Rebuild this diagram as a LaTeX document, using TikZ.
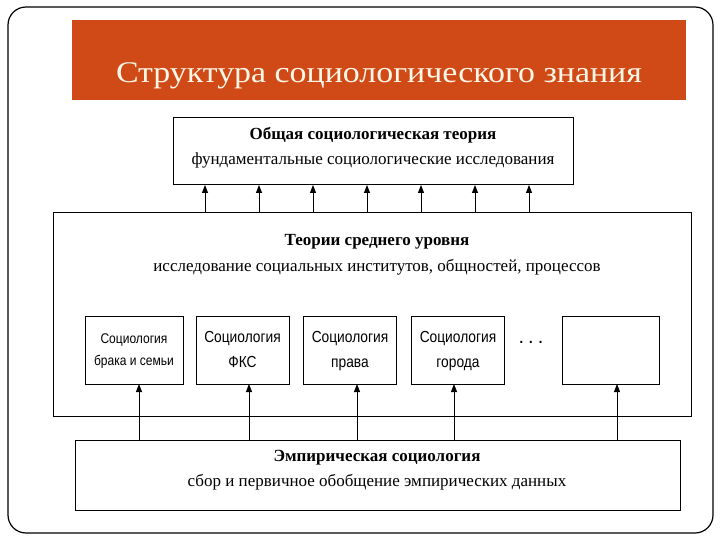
\documentclass[tikz,border=0pt]{standalone}
\usepackage{fontspec}
\setmainfont{Liberation Serif}
\newfontfamily\boxsans{Liberation Sans}
\usetikzlibrary{arrows.meta}
\definecolor{titlebar}{HTML}{D04A17}
\definecolor{titletext}{HTML}{FFF8E8}
\tikzset{
  bigbox/.style={draw, line width=1pt, fill=white},
  smallbox/.style={draw, line width=1pt, fill=white, minimum width=93pt, minimum height=68pt, inner sep=0pt},
  arr/.style={-{Triangle[length=8pt,width=6pt]}, line width=0.8pt},
  hd/.style={font=\fontsize{17}{20}\selectfont\bfseries},
  sub/.style={font=\fontsize{17}{20}\selectfont},
  bx/.style={align=center}
}
\newcommand{\bxtext}[3]{\scalebox{0.86}[1]{\boxsans\fontsize{#1}{#2}\selectfont\begin{tabular}{@{}c@{}}#3\end{tabular}}}
\begin{document}
\begin{tikzpicture}[x=1pt,y=-1pt]
\useasboundingbox (0,0) rectangle (720,540);
\fill[white] (0,0) rectangle (720,540);
% outer frame
\draw[line width=1.2pt, rounded corners=18pt] (8,7) rectangle (713,533);
% title bar
\fill[titlebar] (72,20) rectangle (686,100);
\node (title) at (379,76) {\scalebox{1.13}[1]{\color{titletext}\fontsize{30}{34}\selectfont Структура социологического знания}};
% top box
\draw[bigbox] (173,118) rectangle (573,185);
\node[hd] (t1) at (373,135) {Общая социологическая теория};
\node[sub] (t2) at (373,160) {фундаментальные социологические исследования};
% middle box
\draw[bigbox] (53,213) rectangle (691,416);
\node[hd] (m1) at (377,242) {Теории среднего уровня};
\node[sub] (m2) at (377,267) {исследование социальных институтов, общностей, процессов};
% arrows up
\foreach \x in {205,259,313,367,421,475,529}{
  \draw[arr] (\x,213) -- (\x,185);
}
% small boxes
\node[smallbox, minimum width=98pt] (s1) at (134,350) {};
\node[bx] at (s1) {\bxtext{14}{22}{Социология\\брака и семьи}};
\node[smallbox] (s2) at (242.5,350) {};
\node[bx] at (s2) {\bxtext{16}{25}{Социология\\ФКС}};
\node[smallbox] (s3) at (350,350) {};
\node[bx] at (s3) {\bxtext{16}{25}{Социология\\права}};
\node[smallbox] (s4) at (458,350) {};
\node[bx] at (s4) {\bxtext{16}{25}{Социология\\города}};
\node[smallbox, minimum width=97pt] (s5) at (610.5,350) {};
\node[font=\boxsans\fontsize{20}{22}\selectfont] (dots) at (531,342) {.\hspace{4pt}.\hspace{4pt}.};
% bottom box
\draw[bigbox] (75,440) rectangle (680,510);
\node[hd] (b1) at (377,458) {Эмпирическая социология};
\node[sub] (b2) at (377,482) {сбор и первичное обобщение эмпирических данных};
\foreach \x/\s in {139/s1,249/s2,357/s3,454/s4,617/s5}{
  \draw[arr] (\x,440) -- (\x,384);
}
\end{tikzpicture}
\end{document}
